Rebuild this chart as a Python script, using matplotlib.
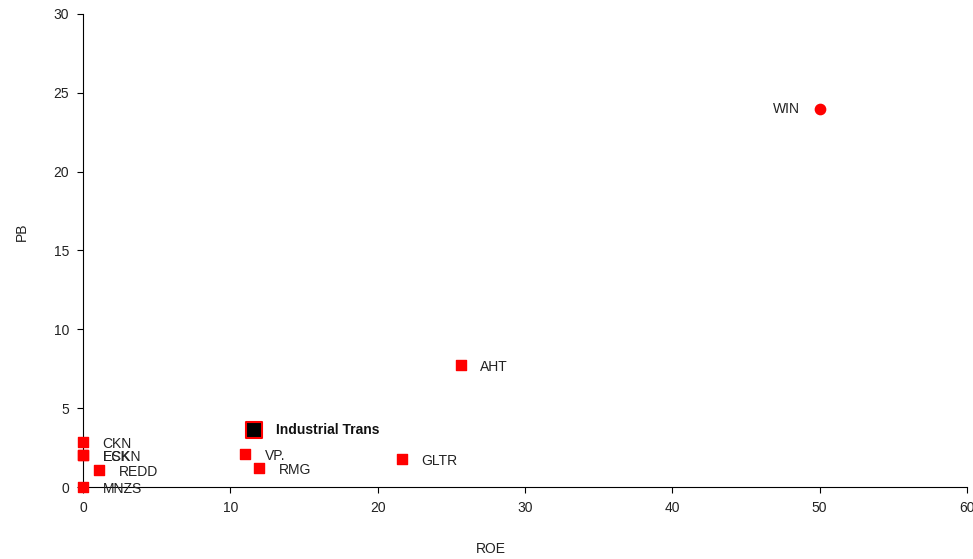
import matplotlib
matplotlib.use("Agg")
import matplotlib.pyplot as plt

plt.rcParams['font.family'] = ['Liberation Sans', 'DejaVu Sans']

# company points (ROE, PB)
names = ['CKN', 'ESK', 'ECKN', 'REDD', 'MNZS', 'VP.', 'RMG', 'GLTR', 'AHT']
roe = [0.0, 0.0, 0.0, 1.1, 0.0, 11.0, 11.95, 21.65, 25.65]
pb = [2.85, 2.03, 2.03, 1.08, 0.0, 2.09, 1.2, 1.78, 7.75]

win_name = 'WIN'
win_roe = 50.0
win_pb = 24.0

sector_name = 'Industrial Trans'
sector_roe = 11.6
sector_pb = 3.6

fs = 10

fig = plt.figure(figsize=(9.73, 5.59), dpi=100)
ax = fig.add_axes([0.0853, 0.1288, 0.9085, 0.8462])

ax.scatter(roe, pb, marker='s', s=55, color='#ff0000', zorder=3, clip_on=False)
for n, x, y in zip(names, roe, pb):
    ax.annotate(n, (x, y), xytext=(14, -1.5), textcoords='offset points',
                va='center', ha='left', fontsize=fs, color='#222222')

ax.scatter([win_roe], [win_pb], marker='o', s=55, color='#ff0000', zorder=3, clip_on=False)
ax.annotate(win_name, (win_roe, win_pb), xytext=(-14, 0), textcoords='offset points',
            va='center', ha='right', fontsize=fs, color='#222222')

ax.scatter([sector_roe], [sector_pb], marker='s', s=130, color='black',
           edgecolors='#ff0000', linewidths=1.5, zorder=4)
ax.annotate(sector_name, (sector_roe, sector_pb), xytext=(16, 0), textcoords='offset points',
            va='center', ha='left', fontsize=fs, fontweight='bold', color='#111111')

ax.set_xlim(0, 60)
ax.set_ylim(0, 30)
ax.set_xticks(range(0, 61, 10))
ax.set_yticks(range(0, 31, 5))
ax.spines['top'].set_visible(False)
ax.spines['right'].set_visible(False)
ax.tick_params(labelsize=fs, length=4, pad=6)
for t in ax.get_xticklabels() + ax.get_yticklabels():
    t.set_color('#222222')

fig.text(0.505, 0.005, 'ROE', ha='center', va='bottom', fontsize=fs, color='#222222')
fig.text(0.015, 0.585, 'PB', ha='left', va='center', rotation=90, fontsize=fs, color='#222222')

fig.savefig('out.png', dpi=100)
